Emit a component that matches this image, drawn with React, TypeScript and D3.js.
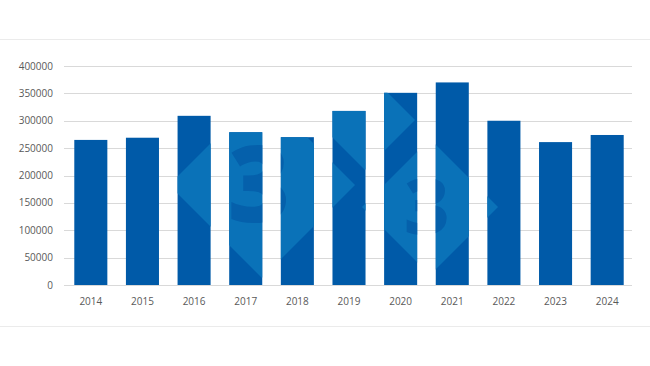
import * as d3 from 'd3'
import { useEffect, useRef } from 'react'

const years = ['2014', '2015', '2016', '2017', '2018', '2019', '2020', '2021', '2022', '2023', '2024']
const values = [265000, 269000, 309000, 279000, 270000, 318000, 351000, 370000, 300000, 261000, 274000]
const yTicks = [0, 50000, 100000, 150000, 200000, 250000, 300000, 350000, 400000]

// watermark logo diamonds: [cx, cy, r, hasDigit] in pixels, only visible through the bars
const logo: [number, number, number, boolean][] = [
    [262, 185, 93, true],
    [365, 120, 50, false],
    [430, 207, 68, true]
]

const App = () => {
    const svgRef = useRef<SVGSVGElement>(null)

    useEffect(() => {
        const w = 650
        const h = 366
        const svg = d3.select(svgRef.current).attr('width', w).attr('height', h)
        svg.selectAll('*').remove()

        const x = d3.scaleBand().domain(years).range([65, 633]).paddingInner(0.36).paddingOuter(0.18)
        const y = d3.scaleLinear().domain([0, 400000]).range([285, 66])

        // separators top and bottom
        svg.selectAll('line.sep').data([39.5, 326.5]).join('line')
            .attr('x1', 0).attr('x2', w).attr('y1', d => d).attr('y2', d => d)
            .attr('stroke', '#ebebeb').attr('stroke-width', 1)

        // gridlines
        svg.selectAll('line.grid').data(yTicks).join('line')
            .attr('x1', 64).attr('x2', 632)
            .attr('y1', d => Math.round(y(d)) + 0.5).attr('y2', d => Math.round(y(d)) + 0.5)
            .attr('stroke', '#d9d9d9').attr('stroke-width', 1)

        // bars
        const defs = svg.append('defs')
        const clip = defs.append('clipPath').attr('id', 'barsClip')
        clip.selectAll('rect').data(values).join('rect')
            .attr('x', (d, i) => x(years[i])!).attr('width', x.bandwidth())
            .attr('y', d => y(d)).attr('height', d => y(0) - y(d))

        svg.append('g').selectAll('rect').data(values).join('rect')
            .attr('x', (d, i) => x(years[i])!).attr('width', x.bandwidth())
            .attr('y', d => y(d)).attr('height', d => y(0) - y(d))
            .attr('fill', '#005aa8')

        // watermark clipped to the bars
        const wm = svg.append('g').attr('clip-path', 'url(#barsClip)')
        wm.selectAll('path').data(logo).join('path')
            .attr('d', d => `M${d[0] - d[2]},${d[1]}L${d[0]},${d[1] - d[2]}L${d[0] + d[2]},${d[1]}L${d[0]},${d[1] + d[2]}Z`)
            .attr('fill', '#0a72b8')
        wm.selectAll('text').data(logo.filter(d => d[3])).join('text')
            .attr('x', d => d[0] - 3).attr('y', d => d[1] + d[2] * 0.4)
            .attr('text-anchor', 'middle')
            .style('font-family', 'Open Sans, sans-serif').style('font-weight', 800)
            .style('font-size', d => `${d[2] * 1.15}px`)
            .attr('fill', '#0560ab')
            .text('3')

        // y axis labels
        svg.append('g').selectAll('text').data(yTicks).join('text')
            .attr('x', 53).attr('y', d => y(d)).attr('dy', '0.35em')
            .attr('text-anchor', 'end')
            .style('font-family', 'Open Sans, sans-serif').style('font-size', '10px')
            .attr('fill', '#595959')
            .text(d => d)

        // x axis labels
        svg.append('g').selectAll('text').data(years).join('text')
            .attr('x', d => x(d)! + x.bandwidth() / 2).attr('y', 301).attr('dy', '0.35em')
            .attr('text-anchor', 'middle')
            .style('font-family', 'Open Sans, sans-serif').style('font-size', '10px')
            .attr('fill', '#595959')
            .text(d => d)
    }, [])

    return (
        <div>
            <svg ref={svgRef} style={{ position: 'absolute', left: 0, top: 0 }}></svg>
        </div>
    )
}

export default App
